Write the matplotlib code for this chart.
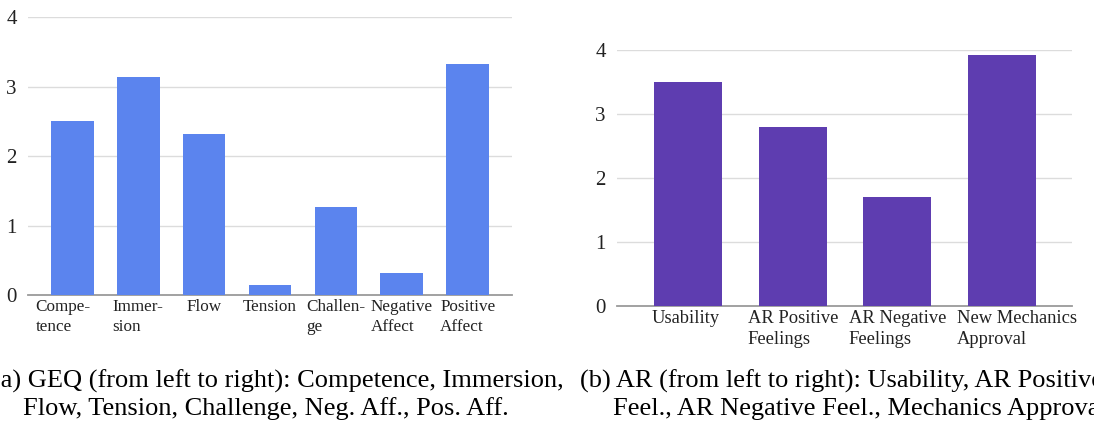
import numpy as np
import matplotlib
matplotlib.use("Agg")
import matplotlib.pyplot as plt
import matplotlib.transforms as mtransforms

plt.rcParams['font.family'] = ['Liberation Serif', 'DejaVu Serif']

# GEQ scores (left panel)
geq_labels = ["Compe-\ntence", "Immer-\nsion", "Flow", "Tension", "Challen-\nge",
              "Negative\nAffect", "Positive\nAffect"]
geq_values = [2.5, 3.13, 2.31, 0.14, 1.26, 0.31, 3.32]

# AR scores (right panel)
ar_labels = ["Usability", "AR Positive\nFeelings", "AR Negative\nFeelings",
             "New Mechanics\nApproval"]
ar_values = [3.5, 2.79, 1.7, 3.92]

yticks = [0, 1, 2, 3, 4]

cap_a1 = "(a) GEQ (from left to right): Competence, Immersion,"
cap_a2 = "Flow, Tension, Challenge, Neg. Aff., Pos. Aff."
cap_b1 = "(b) AR (from left to right): Usability, AR Positive"
cap_b2 = "Feel., AR Negative Feel., Mechanics Approval"

W, H = 1094, 428
fig = plt.figure(figsize=(W / 100, H / 100), dpi=100)


def panel(rect, labels, values, color, xfs, pad_l, pad_r, ls, shifts):
    ax = fig.add_axes(rect)
    x = np.arange(len(values))
    ax.bar(x, values, width=0.65, color=color, zorder=3)
    ax.set_ylim(0, 4)
    ax.set_xlim(-0.5 - pad_l, len(values) - 0.5 + pad_r)
    ax.set_yticks(yticks)
    ax.set_yticklabels([str(t) for t in yticks], fontsize=15)
    ax.set_xticks(x)
    ax.set_xticklabels(labels, fontsize=xfs, ha='center', multialignment='left',
                       linespacing=ls)
    ax.tick_params(axis='both', length=0, colors='#222222')
    ax.tick_params(axis='y', pad=8)
    ax.tick_params(axis='x', pad=3)
    # google sheets nudges some labels sideways to avoid collisions
    for lab, dx in zip(ax.get_xticklabels(), shifts):
        if dx:
            lab.set_transform(lab.get_transform() +
                              mtransforms.ScaledTranslation(dx / 100, 0, fig.dpi_scale_trans))
    ax.grid(axis='y', color='#dcdcdc', linewidth=1)
    ax.set_axisbelow(True)
    for s in ['top', 'right', 'left']:
        ax.spines[s].set_visible(False)
    ax.spines['bottom'].set_color('#9a9a9a')
    ax.spines['bottom'].set_linewidth(1.3)
    return ax


panel([28 / W, 1 - 295 / H, (512 - 28) / W, (295 - 17) / H],
      geq_labels, geq_values, '#5b84ee', 12.3, 0.17, 0.17, 1.3,
      [-9, 0, 0, 0, 0, 0, 0])
panel([617 / W, 1 - 305.7 / H, (1072 - 617) / W, (305.7 - 50) / H],
      ar_labels, ar_values, '#5e3db0', 13.3, 0.18, 0.17, 1.3,
      [-3, 0, 0, 15])

cfs = 19
fig.text(-8 / W, 1 - 388 / H, cap_a1, fontsize=cfs, ha='left', va='baseline')
fig.text(23 / W, 1 - 415 / H, cap_a2, fontsize=cfs, ha='left', va='baseline')
fig.text(580 / W, 1 - 388 / H, cap_b1, fontsize=cfs, ha='left', va='baseline')
fig.text(613 / W, 1 - 415 / H, cap_b2, fontsize=cfs, ha='left', va='baseline')

fig.savefig("out.png", dpi=100)
